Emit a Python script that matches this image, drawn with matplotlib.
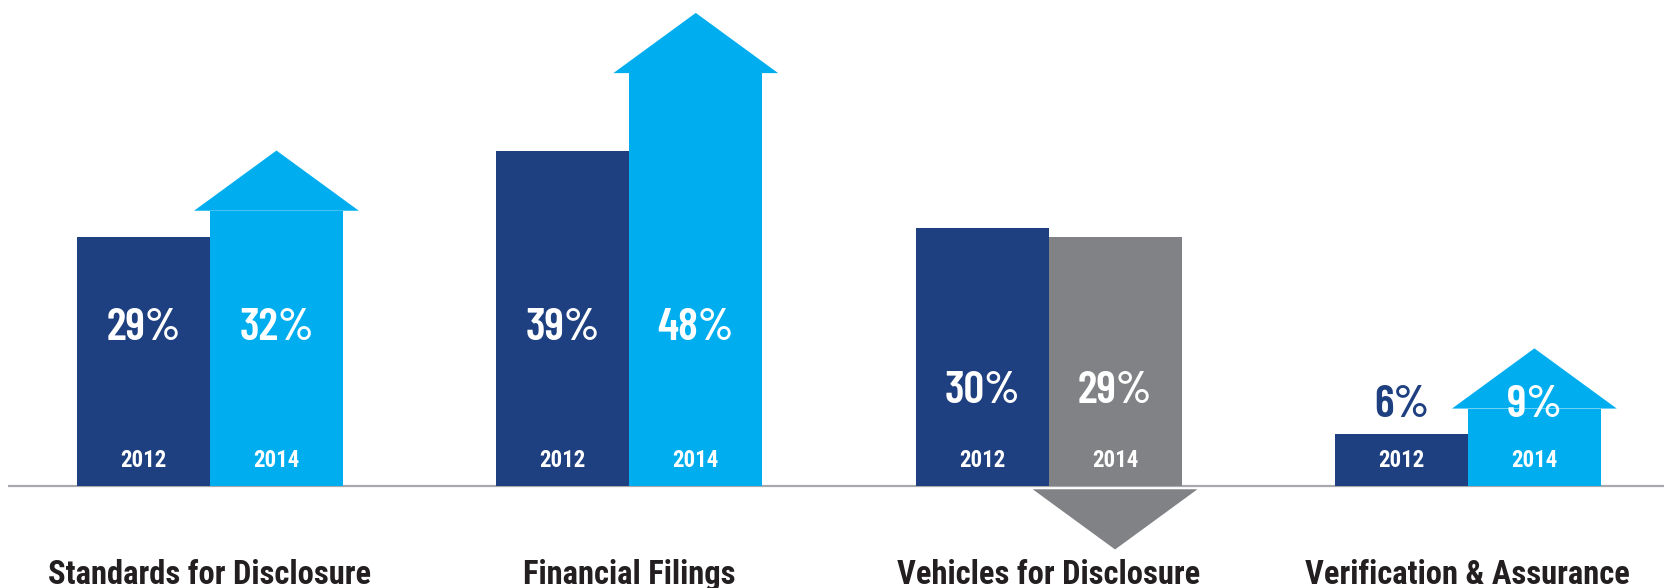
import numpy as np
import matplotlib.pyplot as plt
from matplotlib.patches import Polygon, Rectangle

# values
categories = ['Standards for Disclosure', 'Financial Filings',
              'Vehicles for Disclosure', 'Verification & Assurance']
years = ['2012', '2014']
pct_2012 = [29, 39, 30, 6]
pct_2014 = [32, 48, 29, 9]

dark_blue = '#1f4080'
light_blue = '#00aeef'
gray = '#808285'
text_dark = '#231f20'
line_gray = '#a7a9ac'

plt.rcParams['font.family'] = ['Barlow Condensed', 'Roboto Condensed', 'DejaVu Sans']
label_font = ['Roboto Condensed', 'Barlow Condensed', 'DejaVu Sans']

fig = plt.figure(figsize=(16.65, 5.88), dpi=100)
ax = fig.add_axes([0, 0, 1, 1])
ax.set_xlim(-0.5008, 3.470)
ax.set_ylim(-11.86, 56.5)
ax.axis('off')

w = 0.317        # bar width
head_h = 7.0     # arrow head height
over = 0.038     # arrow head overhang each side
pct_y = [18.4, 18.4, 11.0, 9.4]   # where the % labels sit
year_y = 3.0

# baseline
ax.plot([-0.482, 3.47], [0, 0], color=line_gray, lw=1.6, zorder=1,
        solid_capstyle='butt')

for i, (cat, a, b) in enumerate(zip(categories, pct_2012, pct_2014)):
    # 2012 bar
    ax.add_patch(Rectangle((i - w, 0), w, a, color=dark_blue, lw=0, zorder=2))
    # 2014 bar + arrow
    up = b >= a
    c14 = light_blue if up else gray
    ax.add_patch(Rectangle((i, 0), w, b, color=c14, lw=0, zorder=2))
    if up:
        head = [(i - over, b), (i + w + over, b), (i + w / 2, b + head_h)]
    else:
        top = -0.38
        head = [(i - over, top), (i + w + over, top),
                (i + w / 2, top - head_h)]
    ax.add_patch(Polygon(head, closed=True, color=c14, lw=0, zorder=2))

    # percentage labels
    for x, v, col in [(i - w / 2, a, dark_blue), (i + w / 2, b, c14)]:
        inside = pct_y[i] + 1.6 < v + (head_h if (x > i and up) else 0)
        ax.text(x, pct_y[i], f'{v}%', ha='center', va='center',
                fontsize=33, fontweight=600,
                color='white' if inside else col, zorder=4)
    # year labels
    for x, yr in [(i - w / 2, years[0]), (i + w / 2, years[1])]:
        ax.text(x, year_y, yr, ha='center', va='center', fontsize=16.5,
                fontweight='bold', family=label_font, color='white', zorder=4)
    # category label
    ax.text(i, -11.4, cat, ha='center', va='baseline', fontsize=23.5,
            fontweight='bold', family=label_font, color=text_dark)

fig.savefig('out.png', dpi=100)
